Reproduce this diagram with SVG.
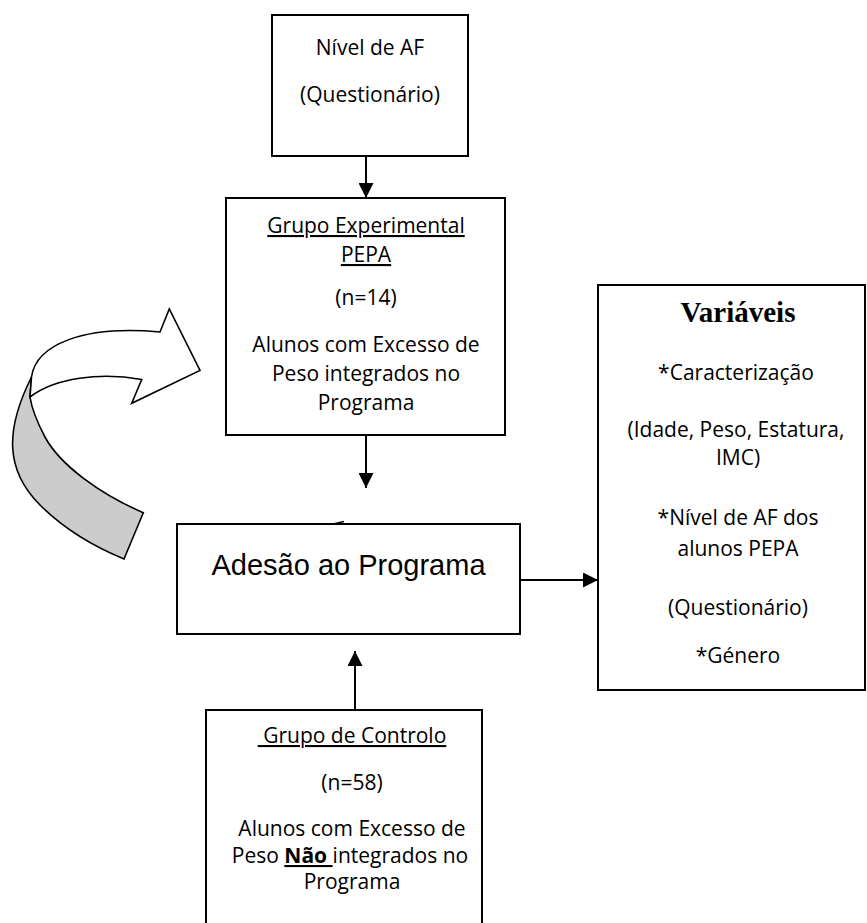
<svg xmlns="http://www.w3.org/2000/svg" width="867" height="923" viewBox="0 0 867 923">
  <style>
    .box { fill: #ffffff; stroke: #000000; stroke-width: 2; }
    .t { font-family: "Open Sans", "Noto Sans", "Liberation Sans", sans-serif; font-size: 21px; fill: #000000; text-anchor: middle; }
    .big { font-family: "Liberation Sans", Arial, sans-serif; font-size: 29px; fill: #000000; text-anchor: middle; }
    .head { font-family: "Liberation Serif", "Times New Roman", serif; font-size: 29px; font-weight: bold; fill: #000000; text-anchor: middle; }
    .u { text-decoration: underline; }
    .b { font-weight: bold; }
    .conn { stroke: #000000; stroke-width: 2; fill: none; }
    .ribbon { stroke: #000000; stroke-width: 1.6; stroke-linejoin: miter; }
  </style>
  <defs>
    <marker id="arrow" markerUnits="userSpaceOnUse" markerWidth="15" markerHeight="15" refX="15" refY="7.5" orient="auto">
      <path d="M0,0 L15,7.5 L0,15 Z" fill="#000000"/>
    </marker>
  </defs>

  <rect width="867" height="923" fill="#ffffff"/>

  <!-- curved feedback ribbon arrow -->
  <g id="curved-arrow">
    <path class="ribbon" fill="#cccccc" d="M31.5,377 C5,430 5,470 40,505 C65,530 95,547 124,559 L143.3,512.7 C100,494 60,465 45,437 C37,422 32,410 30,397 Z"/>
    <path class="ribbon" fill="#ffffff" d="M31.5,377 C36,345 82,325 160,332 L169.3,309 L200,370.5 L131.7,403.3 L141.7,379.5 C100,372 55,378 30,397 Z"/>
  </g>

  <g id="connectors">
    <line class="conn" x1="366" y1="156" x2="366" y2="198" marker-end="url(#arrow)"/>
    <line class="conn" x1="366" y1="435" x2="366" y2="488" marker-end="url(#arrow)"/>
    <line class="conn" x1="355" y1="710" x2="355" y2="651" marker-end="url(#arrow)"/>
    <line class="conn" x1="520" y1="580" x2="598" y2="580" marker-end="url(#arrow)"/>
    <path d="M333,524 L344,521.5" stroke="#000000" stroke-width="1.5" fill="none"/>
  </g>

  <g id="nivel-af">
    <rect class="box" x="272" y="15" width="196" height="141"/>
    <text class="t" x="370" y="55">Nível de AF</text>
    <text class="t" x="370" y="102">(Questionário)</text>
  </g>

  <g id="grupo-experimental">
    <rect class="box" x="226" y="198" width="279" height="237"/>
    <text class="t u" x="366" y="233">Grupo Experimental</text>
    <text class="t u" x="366" y="262">PEPA</text>
    <text class="t" x="366" y="305">(n=14)</text>
    <text class="t" x="366" y="352">Alunos com Excesso de</text>
    <text class="t" x="366" y="381">Peso integrados no</text>
    <text class="t" x="366" y="410">Programa</text>
  </g>

  <g id="adesao">
    <rect class="box" x="177" y="524" width="343" height="110"/>
    <text class="big" x="348.5" y="575">Adesão ao Programa</text>
  </g>

  <g id="variaveis">
    <rect class="box" x="598" y="285" width="267" height="405"/>
    <text class="head" x="738" y="322">Variáveis</text>
    <text class="t" x="736" y="380">*Caracterização</text>
    <text class="t" x="736" y="437">(Idade, Peso, Estatura,</text>
    <text class="t" x="738" y="465">IMC)</text>
    <text class="t" x="738" y="525">*Nível de AF dos</text>
    <text class="t" x="738" y="556">alunos PEPA</text>
    <text class="t" x="738" y="615">(Questionário)</text>
    <text class="t" x="738" y="663">*Género</text>
  </g>

  <g id="grupo-controlo">
    <rect class="box" x="206" y="710" width="276" height="240"/>
    <text class="t u" x="352" y="743" xml:space="preserve"> Grupo de Controlo</text>
    <text class="t" x="352" y="790">(n=58)</text>
    <text class="t" x="352" y="836">Alunos com Excesso de</text>
    <text class="t" x="350" y="863" xml:space="preserve">Peso <tspan class="b u">Não </tspan>integrados no</text>
    <text class="t" x="352" y="889">Programa</text>
  </g>
</svg>
